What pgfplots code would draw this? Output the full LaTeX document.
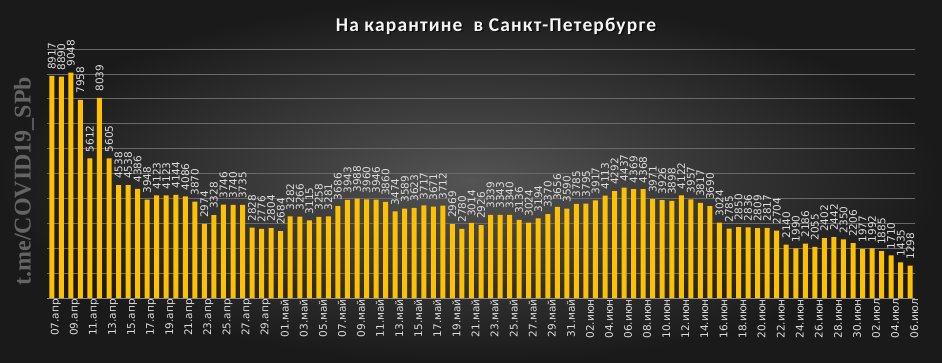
\documentclass[border=0pt]{standalone}
\usepackage{fontspec}
\setmainfont{DejaVu Sans}
\newfontfamily\titlefont[LetterSpace=6]{Carlito}
\newfontfamily\wmfont{Liberation Serif}
\usepackage{pgfplots}
\pgfplotsset{compat=1.18}
\usepackage{pgfplotstable}
\definecolor{bargold}{RGB}{255,192,0}
\definecolor{lbl}{RGB}{220,220,220}
\definecolor{gridc}{RGB}{105,105,105}
\definecolor{axc}{RGB}{140,140,140}
\definecolor{bgin}{RGB}{84,84,84}
\definecolor{bgout}{RGB}{26,26,26}
\definecolor{wmc}{RGB}{100,100,100}

\pgfplotstableread{
x y
0 8917
1 8890
2 9048
3 7958
4 5612
5 8039
6 5605
7 4538
8 4538
9 4386
10 3948
11 4123
12 4123
13 4144
14 4086
15 3870
16 2974
17 3328
18 3746
19 3740
20 3735
21 2828
22 2776
23 2804
24 2684
25 3282
26 3266
27 3115
28 3258
29 3281
30 3686
31 3943
32 3988
33 3960
34 3946
35 3860
36 3474
37 3589
38 3623
39 3717
40 3671
41 3712
42 2969
43 2780
44 3014
45 2926
46 3339
47 3343
48 3340
49 3136
50 3024
51 3194
52 3370
53 3656
54 3590
55 3785
56 3795
57 3917
58 4113
59 4292
60 4437
61 4369
62 4368
63 3971
64 3926
65 3898
66 4122
67 3957
68 3817
69 3690
70 3024
71 2785
72 2850
73 2836
74 2809
75 2817
76 2704
77 2140
78 1990
79 2186
80 2055
81 2402
82 2442
83 2350
84 2206
85 1977
86 1992
87 1885
88 1710
89 1435
90 1298
}\data

\begin{document}
\begin{tikzpicture}[x=1pt,y=1pt]
\shade[inner color=bgin, outer color=bgout] (0,0) rectangle (942,362);
\node[rotate=90, font=\wmfont\bfseries\fontsize{24}{28}\selectfont, text=wmc] at (24,181) {t.me/COVID19\_SPb};
\node[font=\titlefont\bfseries\fontsize{19.5}{22}\selectfont, text=black, opacity=0.6] at (497.5,334.5) {На карантине\ \ в Санкт-Петербурге};
\node[font=\titlefont\bfseries\fontsize{19.5}{22}\selectfont, text=white!92!gray] at (496,336) {На карантине\ \ в Санкт-Петербурге};
\begin{axis}[
  at={(47pt,64pt)}, anchor=south west,
  scale only axis, width=868pt, height=249pt,
  xmin=-0.5, xmax=90.5, ymin=0, ymax=10000,
  axis x line*=bottom, axis y line*=left,
  x axis line style={draw=axc, line width=0.8pt},
  y axis line style={draw=none},
  ytick={1000,2000,...,10000}, yticklabels={},
  scaled y ticks=false,
  ytick style={draw=none},
  ymajorgrids, grid style={draw=gridc, line width=0.7pt},
  xtick={0,2,...,90},
  xticklabels={07.апр,09.апр,11.апр,13.апр,15.апр,17.апр,19.апр,21.апр,23.апр,25.апр,27.апр,29.апр,
    01.май,03.май,05.май,07.май,09.май,11.май,13.май,15.май,17.май,19.май,21.май,23.май,25.май,27.май,29.май,31.май,
    02.июн,04.июн,06.июн,08.июн,10.июн,12.июн,14.июн,16.июн,18.июн,20.июн,22.июн,24.июн,26.июн,28.июн,30.июн,
    02.июл,04.июл,06.июл},
  x tick style={draw=none},
  xticklabel style={rotate=90, anchor=east, font=\fontsize{10.5}{12}\selectfont, text=lbl, inner sep=1pt, yshift=-4pt},
  extra x ticks={-0.5,1.5,...,87.5,90.5},
  extra x tick labels={},
  extra x tick style={tick style={draw=axc, line width=0.8pt}, major tick length=5pt, tick align=outside, xmajorgrids=false},
  /pgf/number format/1000 sep={},
  /pgf/number format/assume math mode=true,
  clip=false,
]
\addplot[ybar, bar width=5pt, fill=bargold, draw=none,
  nodes near coords={\pgfmathprintnumber{\pgfplotspointmeta}},
  nodes near coords style={rotate=90, anchor=west, font=\fontsize{10.5}{12}\selectfont, text=lbl, inner xsep=6pt, inner ysep=0pt}]
  table[x=x, y=y] {\data};
\end{axis}
\end{tikzpicture}
\end{document}
